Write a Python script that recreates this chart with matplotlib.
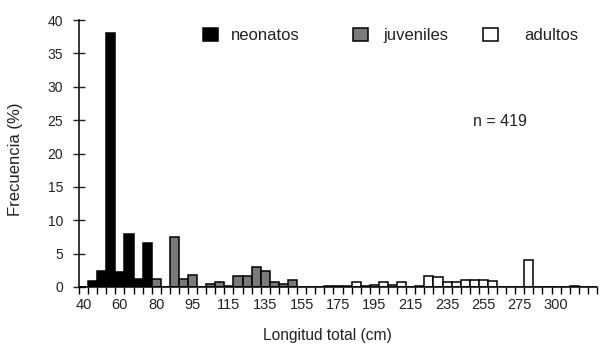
import matplotlib
matplotlib.use("Agg")
import matplotlib.pyplot as plt
from matplotlib.patches import Patch
from matplotlib.legend import Legend
import numpy as np

plt.rcParams['font.family'] = ['Liberation Sans', 'DejaVu Sans']

# frecuencia (%) por clase de longitud, en orden
neonatos  = [0, 0.9, 2.4, 38, 2.2, 8.0, 1.25, 6.65]
juveniles = [1.25, 0, 7.5, 1.25, 1.8, 0, 0.45, 0.75, 0.15, 1.6, 1.6, 3.0, 2.45, 0.8, 0.4, 1.0]
adultos   = [0, 0, 0, 0.15, 0.15, 0.15, 0.75, 0.15, 0.35, 0.75, 0.35, 0.75, 0, 0.15,
             1.6, 1.45, 0.75, 0.75, 1.1, 1.1, 1.1, 0.85, 0, 0, 0, 4.1, 0, 0, 0, 0, 0.2, 0, 0]
etiquetas = ["40", "60", "80", "95", "115", "135", "155", "175", "195", "215",
             "235", "255", "275", "300"]
grupos  = ["neonatos", "juveniles", "adultos"]
colores = ["#000000", "#7a7a7a", "#ffffff"]

fig = plt.figure(figsize=(6.01, 3.62), dpi=100)
ax = fig.add_axes([79/601, 75/362, 518/601, 267/362])

inicio = 0
for serie, color in zip([neonatos, juveniles, adultos], colores):
    x = np.arange(inicio, inicio + len(serie))
    ax.bar(x, serie, width=1.0, color=color, edgecolor="black", linewidth=1.1)
    inicio += len(serie)
n_clases = inicio

ax.set_xlim(-0.5, n_clases - 0.5)
ax.set_ylim(0, 40)
ax.spines['top'].set_visible(False)
ax.spines['right'].set_visible(False)
for s in ['left', 'bottom']:
    ax.spines[s].set_linewidth(1.1)

ax.set_xticks(np.arange(0, 4 * len(etiquetas), 4))
ax.set_xticklabels(etiquetas)
ax.set_xticks(np.arange(-0.5, n_clases, 1), minor=True)
ax.tick_params(axis='x', which='major', length=0, pad=8, labelsize=10.5, colors='#222222')
ax.tick_params(axis='x', which='minor', length=5, width=1.0, direction='out')
ax.set_yticks(np.arange(0, 41, 5))
ax.tick_params(axis='y', direction='inout', length=8.6, width=1.0, pad=7,
               labelsize=10, colors='#222222')

ax.set_ylabel("Frecuencia (%)", fontsize=12, color='#222222')
ax.yaxis.set_label_coords(-0.108, 0.48)
ax.set_xlabel("Longitud total (cm)", fontsize=11.2, color='#222222')
ax.xaxis.set_label_coords(0.479, -0.155)

ax.text(42.9, 24.8, "n = 419", fontsize=11.5, color='#222222', va='center', ha='left')

# leyendas separadas para imitar el espaciado original
pos_x = [0.239, 0.529, 0.780]
pads  = [0.8, 0.9, 1.6]
for nombre, color, px, pad in zip(grupos, colores, pos_x, pads):
    leg = Legend(ax, [Patch(facecolor=color, edgecolor='black', linewidth=1.1)], [nombre],
                 loc='center left', bbox_to_anchor=(px, 0.942), frameon=False,
                 borderpad=0, borderaxespad=0, handlelength=0.9, handleheight=0.9,
                 handletextpad=pad, fontsize=12, labelcolor='#222222')
    ax.add_artist(leg)

fig.savefig("out.png", dpi=100)
